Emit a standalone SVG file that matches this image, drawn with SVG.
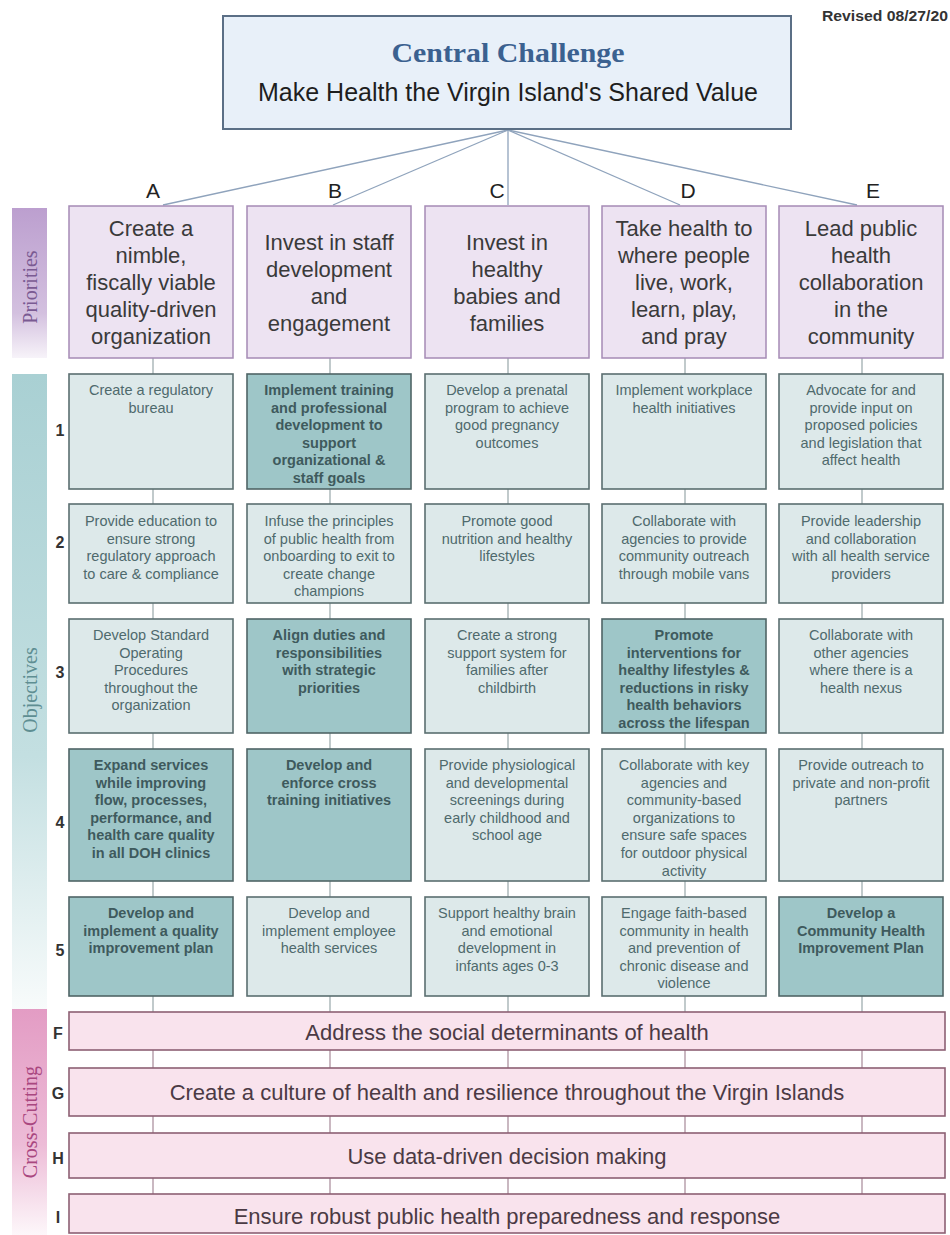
<svg xmlns="http://www.w3.org/2000/svg" width="950" height="1235" viewBox="0 0 950 1235">
<defs>
<linearGradient id="gPri" x1="0" y1="0" x2="0" y2="1">
<stop offset="0" stop-color="#bc9fcf"/><stop offset="0.7" stop-color="#d3c0df"/><stop offset="1" stop-color="#f7f3f9"/>
</linearGradient>
<linearGradient id="gObj" x1="0" y1="0" x2="0" y2="1">
<stop offset="0" stop-color="#a9d0d3"/><stop offset="0.6" stop-color="#c3dfe1"/><stop offset="1" stop-color="#f8fbfb"/>
</linearGradient>
<linearGradient id="gCross" x1="0" y1="0" x2="0" y2="1">
<stop offset="0" stop-color="#e39cc4"/><stop offset="0.6" stop-color="#edbcd7"/><stop offset="1" stop-color="#fdf7fa"/>
</linearGradient>
<style>
.cbox{fill:#e8f0f9;stroke:#5b6f86;stroke-width:2}
.pbox{fill:#ede3f2;stroke:#a58bb5;stroke-width:1.5}
.ol{fill:#dde9ea;stroke:#5b6e70;stroke-width:1.6}
.od{fill:#9ec6c8;stroke:#4f6466;stroke-width:1.6}
.xbox{fill:#f9e3ed;stroke:#8d6073;stroke-width:1.6}
.ptxt{font-family:"Liberation Sans",Arial,sans-serif;font-size:22px;fill:#3a3a3a;text-anchor:middle}
.otl{font-family:"Liberation Sans",Arial,sans-serif;font-size:14.5px;fill:#4f6a6d;text-anchor:middle}
.otd{font-family:"Liberation Sans",Arial,sans-serif;font-size:14.5px;font-weight:bold;fill:#3e5a5d;text-anchor:middle}
.xtxt{font-family:"Liberation Sans",Arial,sans-serif;font-size:22px;fill:#4b3a44;text-anchor:middle}
.let{font-family:"Liberation Sans",Arial,sans-serif;font-size:21px;fill:#222;text-anchor:middle}
.num{font-family:"Liberation Sans",Arial,sans-serif;font-size:16px;font-weight:bold;fill:#333;text-anchor:middle}
.side{font-family:"Liberation Serif","Times New Roman",serif;font-size:20px;text-anchor:middle}
.con{stroke:#8fa3bc;stroke-width:1.3;fill:none}
.vcol{stroke:#a7b4b6;stroke-width:1.4;fill:none}
.vx{stroke:#b39aa7;stroke-width:1.4;fill:none}
</style>
</defs>
<rect width="950" height="1235" fill="#ffffff"/>

<text x="948" y="21" font-family="'Liberation Sans',Arial,sans-serif" font-size="14" font-weight="bold" fill="#333" text-anchor="end" textLength="126" lengthAdjust="spacingAndGlyphs">Revised 08/27/20</text>

<g id="connectors">
<line class="con" x1="508" y1="130" x2="163" y2="205"/>
<line class="con" x1="508" y1="130" x2="333" y2="205"/>
<line class="con" x1="508" y1="130" x2="508" y2="205"/>
<line class="con" x1="508" y1="130" x2="680" y2="205"/>
<line class="con" x1="508" y1="130" x2="857" y2="205"/>
<line class="vcol" x1="153" y1="358" x2="153" y2="1012"/>
<line class="vcol" x1="330" y1="358" x2="330" y2="1012"/>
<line class="vcol" x1="508" y1="358" x2="508" y2="1012"/>
<line class="vcol" x1="685" y1="358" x2="685" y2="1012"/>
<line class="vcol" x1="862" y1="358" x2="862" y2="1012"/>
<line class="vx" x1="153" y1="1012" x2="153" y2="1194"/>
<line class="vx" x1="330" y1="1012" x2="330" y2="1194"/>
<line class="vx" x1="508" y1="1012" x2="508" y2="1194"/>
<line class="vx" x1="685" y1="1012" x2="685" y2="1194"/>
<line class="vx" x1="862" y1="1012" x2="862" y2="1194"/>
</g>

<g id="central">
<rect class="cbox" x="223" y="16" width="568" height="113"/>
<text x="508" y="62" font-family="'Liberation Serif','Times New Roman',serif" font-size="28" font-weight="bold" fill="#3b6190" text-anchor="middle" textLength="233" lengthAdjust="spacingAndGlyphs">Central Challenge</text>
<text x="508" y="101" font-family="'Liberation Sans',Arial,sans-serif" font-size="25" fill="#1e1e1e" text-anchor="middle">Make Health the Virgin Island's Shared Value</text>
</g>

<g id="labels-letters">
<text class="let" x="153" y="198">A</text>
<text class="let" x="335" y="198">B</text>
<text class="let" x="497" y="198">C</text>
<text class="let" x="688" y="198">D</text>
<text class="let" x="873" y="198">E</text>
</g>

<g id="side-priorities">
<rect x="12" y="208" width="35" height="150" fill="url(#gPri)"/>
<text class="side" transform="translate(37,287) rotate(-90)" fill="#7a5a92">Priorities</text>
</g>
<g id="side-objectives">
<rect x="12" y="374" width="35" height="636" fill="url(#gObj)"/>
<text class="side" transform="translate(37,690) rotate(-90)" fill="#5e8e92">Objectives</text>
</g>
<g id="side-crosscutting">
<rect x="12" y="1009" width="35" height="226" fill="url(#gCross)"/>
<text class="side" transform="translate(37,1122) rotate(-90)" fill="#a9477f">Cross-Cutting</text>
</g>

<g id="priority-A"><rect class="pbox" x="69" y="206" width="164" height="152"/>
<text class="ptxt"><tspan x="151" y="236">Create a</tspan><tspan x="151" dy="27">nimble,</tspan><tspan x="151" dy="27">fiscally viable</tspan><tspan x="151" dy="27">quality-driven</tspan><tspan x="151" dy="27">organization</tspan></text></g>
<g id="priority-B"><rect class="pbox" x="247" y="206" width="164" height="152"/>
<text class="ptxt"><tspan x="329" y="249.5">Invest in staff</tspan><tspan x="329" dy="27">development</tspan><tspan x="329" dy="27">and</tspan><tspan x="329" dy="27">engagement</tspan></text></g>
<g id="priority-C"><rect class="pbox" x="425" y="206" width="164" height="152"/>
<text class="ptxt"><tspan x="507" y="249.5">Invest in</tspan><tspan x="507" dy="27">healthy</tspan><tspan x="507" dy="27">babies and</tspan><tspan x="507" dy="27">families</tspan></text></g>
<g id="priority-D"><rect class="pbox" x="602" y="206" width="164" height="152"/>
<text class="ptxt"><tspan x="684" y="236">Take health to</tspan><tspan x="684" dy="27">where people</tspan><tspan x="684" dy="27">live, work,</tspan><tspan x="684" dy="27">learn, play,</tspan><tspan x="684" dy="27">and pray</tspan></text></g>
<g id="priority-E"><rect class="pbox" x="779" y="206" width="164" height="152"/>
<text class="ptxt"><tspan x="861" y="236">Lead public</tspan><tspan x="861" dy="27">health</tspan><tspan x="861" dy="27">collaboration</tspan><tspan x="861" dy="27">in the</tspan><tspan x="861" dy="27">community</tspan></text></g>

<g id="row-numbers">
<text class="num" x="60" y="436">1</text>
<text class="num" x="60" y="548">2</text>
<text class="num" x="60" y="678">3</text>
<text class="num" x="60" y="828">4</text>
<text class="num" x="60" y="956">5</text>
</g>

<g id="obj-A1"><rect class="ol" x="69" y="374" width="164" height="115"/>
<text class="otl"><tspan x="151" y="395">Create a regulatory</tspan><tspan x="151" dy="17.6">bureau</tspan></text></g>
<g id="obj-B1"><rect class="od" x="247" y="374" width="164" height="115"/>
<text class="otd"><tspan x="329" y="395">Implement training</tspan><tspan x="329" dy="17.6">and professional</tspan><tspan x="329" dy="17.6">development to</tspan><tspan x="329" dy="17.6">support</tspan><tspan x="329" dy="17.6">organizational &amp;</tspan><tspan x="329" dy="17.6">staff goals</tspan></text></g>
<g id="obj-C1"><rect class="ol" x="425" y="374" width="164" height="115"/>
<text class="otl"><tspan x="507" y="395">Develop a prenatal</tspan><tspan x="507" dy="17.6">program to achieve</tspan><tspan x="507" dy="17.6">good pregnancy</tspan><tspan x="507" dy="17.6">outcomes</tspan></text></g>
<g id="obj-D1"><rect class="ol" x="602" y="374" width="164" height="115"/>
<text class="otl"><tspan x="684" y="395">Implement workplace</tspan><tspan x="684" dy="17.6">health initiatives</tspan></text></g>
<g id="obj-E1"><rect class="ol" x="779" y="374" width="164" height="115"/>
<text class="otl"><tspan x="861" y="395">Advocate for and</tspan><tspan x="861" dy="17.6">provide input on</tspan><tspan x="861" dy="17.6">proposed policies</tspan><tspan x="861" dy="17.6">and legislation that</tspan><tspan x="861" dy="17.6">affect health</tspan></text></g>

<g id="obj-A2"><rect class="ol" x="69" y="504" width="164" height="99"/>
<text class="otl"><tspan x="151" y="526">Provide education to</tspan><tspan x="151" dy="17.6">ensure strong</tspan><tspan x="151" dy="17.6">regulatory approach</tspan><tspan x="151" dy="17.6">to care &amp; compliance</tspan></text></g>
<g id="obj-B2"><rect class="ol" x="247" y="504" width="164" height="99"/>
<text class="otl"><tspan x="329" y="526">Infuse the principles</tspan><tspan x="329" dy="17.6">of public health from</tspan><tspan x="329" dy="17.6">onboarding to exit to</tspan><tspan x="329" dy="17.6">create change</tspan><tspan x="329" dy="17.6">champions</tspan></text></g>
<g id="obj-C2"><rect class="ol" x="425" y="504" width="164" height="99"/>
<text class="otl"><tspan x="507" y="526">Promote good</tspan><tspan x="507" dy="17.6">nutrition and healthy</tspan><tspan x="507" dy="17.6">lifestyles</tspan></text></g>
<g id="obj-D2"><rect class="ol" x="602" y="504" width="164" height="99"/>
<text class="otl"><tspan x="684" y="526">Collaborate with</tspan><tspan x="684" dy="17.6">agencies to provide</tspan><tspan x="684" dy="17.6">community outreach</tspan><tspan x="684" dy="17.6">through mobile vans</tspan></text></g>
<g id="obj-E2"><rect class="ol" x="779" y="504" width="164" height="99"/>
<text class="otl"><tspan x="861" y="526">Provide leadership</tspan><tspan x="861" dy="17.6">and collaboration</tspan><tspan x="861" dy="17.6">with all health service</tspan><tspan x="861" dy="17.6">providers</tspan></text></g>

<g id="obj-A3"><rect class="ol" x="69" y="619" width="164" height="114"/>
<text class="otl"><tspan x="151" y="640">Develop Standard</tspan><tspan x="151" dy="17.6">Operating</tspan><tspan x="151" dy="17.6">Procedures</tspan><tspan x="151" dy="17.6">throughout the</tspan><tspan x="151" dy="17.6">organization</tspan></text></g>
<g id="obj-B3"><rect class="od" x="247" y="619" width="164" height="114"/>
<text class="otd"><tspan x="329" y="640">Align duties and</tspan><tspan x="329" dy="17.6">responsibilities</tspan><tspan x="329" dy="17.6">with strategic</tspan><tspan x="329" dy="17.6">priorities</tspan></text></g>
<g id="obj-C3"><rect class="ol" x="425" y="619" width="164" height="114"/>
<text class="otl"><tspan x="507" y="640">Create a strong</tspan><tspan x="507" dy="17.6">support system for</tspan><tspan x="507" dy="17.6">families after</tspan><tspan x="507" dy="17.6">childbirth</tspan></text></g>
<g id="obj-D3"><rect class="od" x="602" y="619" width="164" height="114"/>
<text class="otd"><tspan x="684" y="640">Promote</tspan><tspan x="684" dy="17.6">interventions for</tspan><tspan x="684" dy="17.6">healthy lifestyles &amp;</tspan><tspan x="684" dy="17.6">reductions in risky</tspan><tspan x="684" dy="17.6">health behaviors</tspan><tspan x="684" dy="17.6">across the lifespan</tspan></text></g>
<g id="obj-E3"><rect class="ol" x="779" y="619" width="164" height="114"/>
<text class="otl"><tspan x="861" y="640">Collaborate with</tspan><tspan x="861" dy="17.6">other agencies</tspan><tspan x="861" dy="17.6">where there is a</tspan><tspan x="861" dy="17.6">health nexus</tspan></text></g>

<g id="obj-A4"><rect class="od" x="69" y="749" width="164" height="132"/>
<text class="otd"><tspan x="151" y="770">Expand services</tspan><tspan x="151" dy="17.6">while improving</tspan><tspan x="151" dy="17.6">flow, processes,</tspan><tspan x="151" dy="17.6">performance, and</tspan><tspan x="151" dy="17.6">health care quality</tspan><tspan x="151" dy="17.6">in all DOH clinics</tspan></text></g>
<g id="obj-B4"><rect class="od" x="247" y="749" width="164" height="132"/>
<text class="otd"><tspan x="329" y="770">Develop and</tspan><tspan x="329" dy="17.6">enforce cross</tspan><tspan x="329" dy="17.6">training initiatives</tspan></text></g>
<g id="obj-C4"><rect class="ol" x="425" y="749" width="164" height="132"/>
<text class="otl"><tspan x="507" y="770">Provide physiological</tspan><tspan x="507" dy="17.6">and developmental</tspan><tspan x="507" dy="17.6">screenings during</tspan><tspan x="507" dy="17.6">early childhood and</tspan><tspan x="507" dy="17.6">school age</tspan></text></g>
<g id="obj-D4"><rect class="ol" x="602" y="749" width="164" height="132"/>
<text class="otl"><tspan x="684" y="770">Collaborate with key</tspan><tspan x="684" dy="17.6">agencies and</tspan><tspan x="684" dy="17.6">community-based</tspan><tspan x="684" dy="17.6">organizations to</tspan><tspan x="684" dy="17.6">ensure safe spaces</tspan><tspan x="684" dy="17.6">for outdoor physical</tspan><tspan x="684" dy="17.6">activity</tspan></text></g>
<g id="obj-E4"><rect class="ol" x="779" y="749" width="164" height="132"/>
<text class="otl"><tspan x="861" y="770">Provide outreach to</tspan><tspan x="861" dy="17.6">private and non-profit</tspan><tspan x="861" dy="17.6">partners</tspan></text></g>

<g id="obj-A5"><rect class="od" x="69" y="897" width="164" height="99"/>
<text class="otd"><tspan x="151" y="918">Develop and</tspan><tspan x="151" dy="17.6">implement a quality</tspan><tspan x="151" dy="17.6">improvement plan</tspan></text></g>
<g id="obj-B5"><rect class="ol" x="247" y="897" width="164" height="99"/>
<text class="otl"><tspan x="329" y="918">Develop and</tspan><tspan x="329" dy="17.6">implement employee</tspan><tspan x="329" dy="17.6">health services</tspan></text></g>
<g id="obj-C5"><rect class="ol" x="425" y="897" width="164" height="99"/>
<text class="otl"><tspan x="507" y="918">Support healthy brain</tspan><tspan x="507" dy="17.6">and emotional</tspan><tspan x="507" dy="17.6">development in</tspan><tspan x="507" dy="17.6">infants ages 0-3</tspan></text></g>
<g id="obj-D5"><rect class="ol" x="602" y="897" width="164" height="99"/>
<text class="otl"><tspan x="684" y="918">Engage faith-based</tspan><tspan x="684" dy="17.6">community in health</tspan><tspan x="684" dy="17.6">and prevention of</tspan><tspan x="684" dy="17.6">chronic disease and</tspan><tspan x="684" dy="17.6">violence</tspan></text></g>
<g id="obj-E5"><rect class="od" x="779" y="897" width="164" height="99"/>
<text class="otd"><tspan x="861" y="918">Develop a</tspan><tspan x="861" dy="17.6">Community Health</tspan><tspan x="861" dy="17.6">Improvement Plan</tspan></text></g>

<g id="cross-F"><rect class="xbox" x="69" y="1012" width="876" height="38"/>
<text class="num" x="58" y="1039" font-size="17">F</text>
<text class="xtxt" x="507" y="1040">Address the social determinants of health</text></g>
<g id="cross-G"><rect class="xbox" x="69" y="1068" width="876" height="48"/>
<text class="num" x="58" y="1099" font-size="17">G</text>
<text class="xtxt" x="507" y="1100">Create a culture of health and resilience throughout the Virgin Islands</text></g>
<g id="cross-H"><rect class="xbox" x="69" y="1133" width="876" height="45"/>
<text class="num" x="58" y="1164" font-size="17">H</text>
<text class="xtxt" x="507" y="1164">Use data-driven decision making</text></g>
<g id="cross-I"><rect class="xbox" x="69" y="1194" width="876" height="39"/>
<text class="num" x="58" y="1223" font-size="17">I</text>
<text class="xtxt" x="507" y="1224">Ensure robust public health preparedness and response</text></g>
</svg>
